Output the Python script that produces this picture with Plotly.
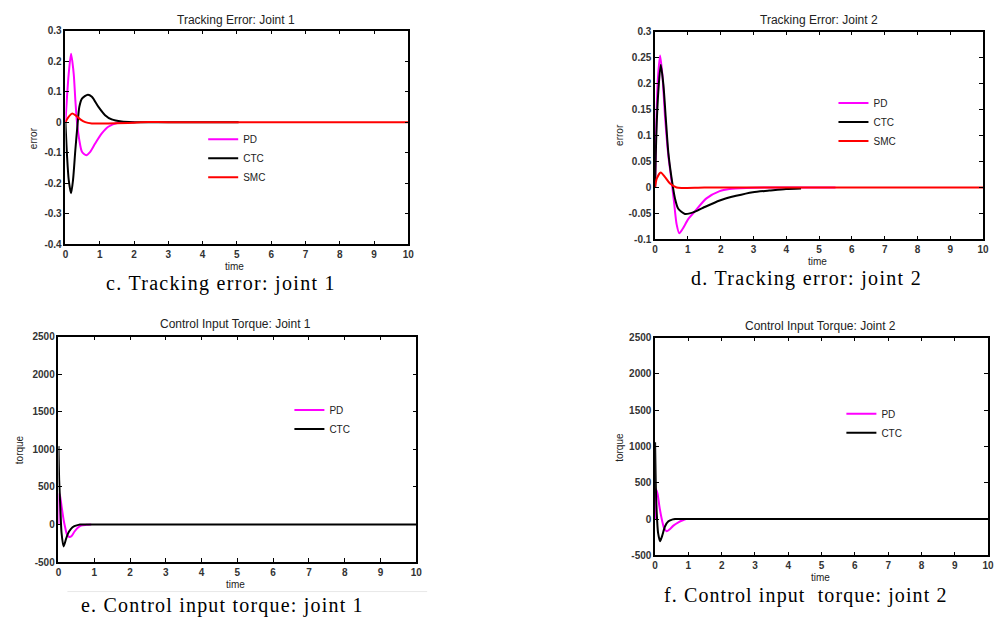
import plotly.graph_objects as go

# ---------------- data ----------------
# c. Tracking error: joint 1
t_c_pd = [0, 0.05, 0.096, 0.164, 0.241, 0.289, 0.337, 0.405, 0.482, 0.607, 0.723, 0.867, 1.06, 1.25, 1.54, 2.0]
e_c_pd = [0, 0.09, 0.159, 0.224, 0.159, 0.072, 0.0, -0.059, -0.097, -0.108, -0.097, -0.07, -0.037, -0.015, -0.002, 0.0]
t_c_ctc = [0, 0.048, 0.096, 0.164, 0.222, 0.289, 0.356, 0.405, 0.482, 0.655, 0.771, 0.963, 1.156, 1.349, 1.638, 1.975, 3.0, 5.05]
e_c_ctc = [0, -0.113, -0.189, -0.233, -0.189, -0.091, -0.004, 0.05, 0.077, 0.09, 0.083, 0.05, 0.023, 0.009, 0.002, 0.0, 0.0, 0.0]
t_c_smc = [0, 0.077, 0.193, 0.289, 0.434, 0.578, 0.77, 1.25, 1.975, 2.2, 3.0, 10]
e_c_smc = [0, 0.015, 0.028, 0.023, 0.009, 0.0, -0.004, -0.004, -0.002, 0.0, 0.0, 0.0]

# d. Tracking error: joint 2
t_d_pd = [0, 0.03, 0.081, 0.152, 0.222, 0.303, 0.404, 0.505, 0.576, 0.657, 0.737, 0.838, 1.01, 1.212, 1.566, 1.97, 2.27, 2.78, 3.5, 5.5]
e_d_pd = [0, 0.104, 0.204, 0.254, 0.217, 0.136, 0.061, 0.011, -0.027, -0.071, -0.088, -0.08, -0.061, -0.046, -0.021, -0.007, -0.003, -0.001, 0.0, 0.0]
t_d_ctc = [0, 0.02, 0.05, 0.1, 0.172, 0.253, 0.323, 0.404, 0.505, 0.606, 0.707, 0.909, 1.16, 1.465, 1.97, 2.47, 2.98, 3.48, 3.99, 4.45]
e_d_ctc = [0, 0.06, 0.123, 0.186, 0.236, 0.198, 0.136, 0.067, 0.017, -0.021, -0.041, -0.051, -0.048, -0.039, -0.025, -0.016, -0.009, -0.006, -0.003, -0.002]
t_d_smc = [0, 0.05, 0.172, 0.303, 0.455, 0.657, 0.81, 1.5, 2.5, 10]
e_d_smc = [0, 0.017, 0.029, 0.02, 0.0075, 0.0, -0.001, 0.0, 0.0, 0.0]

# e. Control input torque: joint 1
t_e_pd = [0, 0.019, 0.047, 0.094, 0.142, 0.179, 0.236, 0.302, 0.368, 0.443, 0.538, 0.632, 0.774, 0.915]
u_e_pd = [0, 413, 370, 217, 65, -22, -130, -165, -152, -96, -43, -13, -4, 0]
t_e_ctc = [0, 0.019, 0.047, 0.085, 0.142, 0.208, 0.255, 0.349, 0.443, 0.557, 0.6, 0.8, 1.0, 2.0, 10]
u_e_ctc = [1043, 587, 283, -109, -291, -196, -130, -57, -22, -4, 0, 0, 0, 0, 0]

# f. Control input torque: joint 2
t_f_pd = [0, 0.02, 0.07, 0.13, 0.2, 0.27, 0.35, 0.43, 0.55, 0.7, 0.85, 0.93]
u_f_pd = [0, 409, 355, 173, 0, -123, -168, -145, -91, -45, -14, 0]
t_f_ctc = [0, 0.02, 0.05, 0.09, 0.15, 0.21, 0.3, 0.4, 0.53, 0.6, 0.8, 1.0, 2.0, 10]
u_f_ctc = [1059, 491, 82, -191, -305, -236, -100, -32, -5, 0, 0, 0, 0, 0]

# ticks
x_ticks = [0, 1, 2, 3, 4, 5, 6, 7, 8, 9, 10]
x_tick_text = ["0", "1", "2", "3", "4", "5", "6", "7", "8", "9", "10"]
y_ticks_c = [-0.4, -0.3, -0.2, -0.1, 0, 0.1, 0.2, 0.3]
y_tick_text_c = ["-0.4", "-0.3", "-0.2", "-0.1", "0", "0.1", "0.2", "0.3"]
y_ticks_d = [-0.1, -0.05, 0, 0.05, 0.1, 0.15, 0.2, 0.25, 0.3]
y_tick_text_d = ["-0.1", "-0.05", "0", "0.05", "0.1", "0.15", "0.2", "0.25", "0.3"]
y_ticks_tq = [-500, 0, 500, 1000, 1500, 2000, 2500]
y_tick_text_tq = ["-500", "0", "500", "1000", "1500", "2000", "2500"]

# ---------------- figure ----------------
W, H = 1001, 628
COL = {"PD": "#ff00ff", "CTC": "#000000", "SMC": "#ff0000"}
SANS = "Liberation Sans, Arial, sans-serif"
SERIF = "Liberation Serif, Times New Roman, serif"


def px(x):
    return x / W


def py(y):
    return 1 - y / H


fig = go.Figure()


def add(x, y, name, xa, ya, leg):
    fig.add_trace(go.Scatter(x=x, y=y, name=name, mode="lines",
                             line=dict(color=COL[name], width=2, shape="spline", smoothing=0.7),
                             xaxis=xa, yaxis=ya, legend=leg, showlegend=True,
                             hoverinfo="skip"))


add(t_c_pd, e_c_pd, "PD", "x", "y", "legend")
add(t_c_ctc, e_c_ctc, "CTC", "x", "y", "legend")
add(t_c_smc, e_c_smc, "SMC", "x", "y", "legend")

add(t_d_pd, e_d_pd, "PD", "x2", "y2", "legend2")
add(t_d_ctc, e_d_ctc, "CTC", "x2", "y2", "legend2")
add(t_d_smc, e_d_smc, "SMC", "x2", "y2", "legend2")

add(t_e_pd, u_e_pd, "PD", "x3", "y3", "legend3")
add(t_e_ctc, u_e_ctc, "CTC", "x3", "y3", "legend3")

add(t_f_pd, u_f_pd, "PD", "x4", "y4", "legend4")
add(t_f_ctc, u_f_ctc, "CTC", "x4", "y4", "legend4")


def axis(domain, rng, tv, tt, anchor):
    return dict(domain=domain, range=rng, tickvals=tv, ticktext=tt, anchor=anchor,
                showline=True, linecolor="black", linewidth=1.5, mirror="allticks",
                ticks="inside", ticklen=4, tickwidth=1, tickcolor="black",
                showgrid=False, zeroline=False, fixedrange=True,
                tickfont=dict(family=SANS, size=10, color="#333333", weight="bold"))


# panel pixel boxes: (left, right, top, bottom)
boxes = {
    "c": (63, 409, 25, 243),
    "d": (658, 989, 26, 238),
    "e": (56, 417, 337, 567),
    "f": (658, 994, 338, 560),
}


def dom(b):
    l, r, t, bt = boxes[b]
    return [px(l), px(r)], [py(bt), py(t)]


xc, yc = dom("c")
xd, yd = dom("d")
xe, ye = dom("e")
xf, yf = dom("f")

legend_style = dict(bgcolor="rgba(0,0,0,0)", borderwidth=0, xanchor="left", yanchor="top",
                    font=dict(family=SANS, size=10, color="#222222"), itemwidth=30,
                    tracegroupgap=0)

fig.update_layout(
    width=W, height=H,
    margin=dict(l=0, r=0, t=0, b=0),
    paper_bgcolor="white", plot_bgcolor="white",
    xaxis=axis(xc, [0, 10], x_ticks, x_tick_text, "y"),
    yaxis=axis(yc, [-0.4, 0.3], y_ticks_c, y_tick_text_c, "x"),
    xaxis2=axis(xd, [0, 10], x_ticks, x_tick_text, "y2"),
    yaxis2=axis(yd, [-0.1, 0.3], y_ticks_d, y_tick_text_d, "x2"),
    xaxis3=axis(xe, [0, 10], x_ticks, x_tick_text, "y3"),
    yaxis3=axis(ye, [-500, 2500], y_ticks_tq, y_tick_text_tq, "x3"),
    xaxis4=axis(xf, [0, 10], x_ticks, x_tick_text, "y4"),
    yaxis4=axis(yf, [-500, 2500], y_ticks_tq, y_tick_text_tq, "x4"),
    legend=dict(legend_style, x=px(202), y=py(121)),
    legend2=dict(legend_style, x=px(838), y=py(84)),
    legend3=dict(legend_style, x=px(289), y=py(397)),
    legend4=dict(legend_style, x=px(846), y=py(401)),
)

ann = []


def label(text, x, y, size, family=SANS, color="#222222", angle=0):
    ann.append(dict(text=text, x=px(x), y=py(y), xref="paper", yref="paper",
                    showarrow=False, xanchor="center", yanchor="middle", textangle=angle,
                    font=dict(family=family, size=size, color=color)))


def caption(text, x, y, spacing):
    label('<span style="letter-spacing:%.2fpx">%s</span>' % (spacing, text), x, y, 20,
          family=SERIF, color="black")


# panel titles
label("Tracking Error: Joint 1", 235, 14, 12)
label("Tracking Error: Joint 2", 823, 14, 12)
label("Control Input Torque: Joint 1", 235, 324, 12)
label("Control Input Torque: Joint 2", 825, 326, 12)
# axis titles
label("time", 234, 266, 10)
label("time", 822, 260, 10)
label("time", 235, 590, 10)
label("time", 825, 583, 10)
label("error", 31, 135, 10, angle=-90)
label("error", 622, 131, 10, angle=-90)
label("torque", 17, 452, 10, angle=-90)
label("torque", 622, 450, 10, angle=-90)
# captions
caption("c. Tracking error: joint 1", 220, 283, 1.3)
caption("d. Tracking error: joint 2", 811, 278, 1.3)
caption("e. Control input torque: joint 1", 221, 611, 1.2)
caption("f. Control input  torque: joint 2", 810, 601, 1.1)

fig.update_layout(annotations=ann)

# faint separator line under the bottom-left panel
fig.add_shape(type="line", xref="paper", yref="paper", x0=px(65), x1=px(428), y0=py(597), y1=py(597),
              line=dict(color="#e8e8e8", width=1))

fig.write_html("out.html", config={"displayModeBar": False},
               post_script="document.body.style.margin='0';document.body.style.overflow='hidden';")
